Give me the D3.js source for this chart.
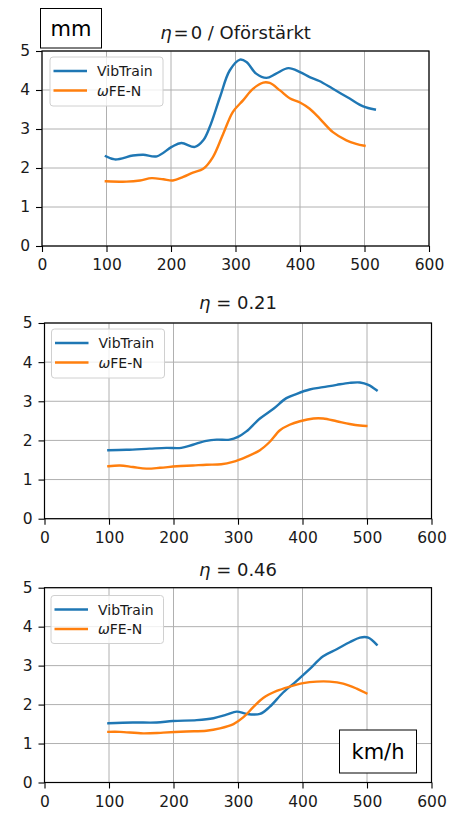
<!DOCTYPE html>
<html>
<head>
<meta charset="utf-8">
<script src="https://cdn.jsdelivr.net/npm/d3@7"></script>
<style>
  html, body { margin: 0; padding: 0; background: #fff; }
  svg { display: block; font-family: "DejaVu Sans", sans-serif; }
</style>
</head>
<body>
<svg id="chart" width="450" height="816"></svg>
<script>
// ---- data ----
const xTicks = [0, 100, 200, 300, 400, 500, 600];
const yTicks = [0, 1, 2, 3, 4, 5];
const seriesNames = ["VibTrain", "\u03C9FE-N"];
const seriesColors = ["#1f77b4", "#ff7f0e"];
const panelTitles = ["\u03B7=0 / Oförstärkt", "\u03B7 = 0.21", "\u03B7 = 0.46"];

// Panel 1: η = 0 / Oförstärkt
const p1VibSpeed = [99, 113, 141, 157, 178, 201, 216, 237, 250, 260, 276, 291, 307, 317, 332, 348, 363, 382, 400, 415, 430, 451, 477, 498, 516];
const p1VibVal   = [2.30, 2.22, 2.32, 2.34, 2.30, 2.54, 2.64, 2.54, 2.71, 3.05, 3.82, 4.50, 4.78, 4.72, 4.42, 4.31, 4.42, 4.56, 4.46, 4.33, 4.23, 4.03, 3.78, 3.58, 3.50];
const p1FeSpeed  = [99, 131, 152, 170, 188, 203, 219, 234, 250, 265, 281, 296, 312, 327, 343, 353, 369, 384, 400, 415, 431, 451, 472, 487, 500];
const p1FeVal    = [1.66, 1.65, 1.68, 1.74, 1.71, 1.68, 1.77, 1.88, 1.98, 2.28, 2.88, 3.44, 3.74, 4.03, 4.19, 4.18, 3.99, 3.79, 3.68, 3.52, 3.26, 2.92, 2.71, 2.62, 2.57];

// Panel 2: η = 0.21
const p2VibSpeed = [99, 127, 163, 189, 212, 230, 251, 267, 287, 300, 313, 334, 355, 375, 391, 411, 432, 453, 473, 489, 502, 515];
const p2VibVal   = [1.75, 1.76, 1.79, 1.81, 1.81, 1.89, 1.99, 2.02, 2.02, 2.09, 2.23, 2.56, 2.81, 3.08, 3.19, 3.30, 3.36, 3.42, 3.47, 3.48, 3.42, 3.28];
const p2FeSpeed  = [99, 117, 137, 158, 179, 205, 230, 251, 274, 292, 313, 334, 349, 365, 380, 396, 417, 432, 453, 473, 489, 499];
const p2FeVal    = [1.34, 1.36, 1.32, 1.28, 1.30, 1.34, 1.36, 1.38, 1.39, 1.45, 1.58, 1.75, 1.96, 2.26, 2.40, 2.49, 2.56, 2.56, 2.49, 2.42, 2.38, 2.37];

// Panel 3: η = 0.46
const p3VibSpeed = [99, 137, 174, 199, 236, 262, 282, 298, 313, 334, 349, 370, 391, 411, 432, 453, 473, 489, 502, 515];
const p3VibVal   = [1.52, 1.54, 1.54, 1.58, 1.60, 1.65, 1.74, 1.82, 1.76, 1.76, 1.94, 2.31, 2.61, 2.91, 3.24, 3.42, 3.60, 3.72, 3.72, 3.54];
const p3FeSpeed  = [99, 117, 153, 184, 220, 251, 272, 293, 308, 324, 339, 360, 380, 401, 422, 442, 463, 484, 499];
const p3FeVal    = [1.30, 1.30, 1.26, 1.28, 1.31, 1.33, 1.39, 1.50, 1.67, 1.94, 2.17, 2.35, 2.46, 2.55, 2.59, 2.59, 2.54, 2.41, 2.29];

// ---- layout ----
const panels = [
  { left: 42,   right: 429,   top: 51,    bottom: 246,   titleY: 39,  legend: { x: 50, y: 57, w: 113, h: 49 },
    series: [[p1VibSpeed, p1VibVal], [p1FeSpeed, p1FeVal]] },
  { left: 44.5, right: 431.5, top: 323,   bottom: 518.7, titleY: 309, legend: { x: 51.5, y: 329, w: 113, h: 49 },
    series: [[p2VibSpeed, p2VibVal], [p2FeSpeed, p2FeVal]] },
  { left: 44.5, right: 431.5, top: 587.7, bottom: 782.5, titleY: 576, legend: { x: 51, y: 595.5, w: 112.5, h: 48 },
    series: [[p3VibSpeed, p3VibVal], [p3FeSpeed, p3FeVal]] }
];

const svg = d3.select("#chart");

panels.forEach((p, i) => {
  const x = d3.scaleLinear().domain([0, 600]).range([p.left, p.right]);
  const y = d3.scaleLinear().domain([0, 5]).range([p.bottom, p.top]);
  const g = svg.append("g");

  // grid
  g.append("g").selectAll("line").data(xTicks).join("line")
    .attr("x1", d => x(d)).attr("x2", d => x(d))
    .attr("y1", p.top).attr("y2", p.bottom)
    .attr("stroke", "#b0b0b0").attr("stroke-width", 1);
  g.append("g").selectAll("line").data(yTicks).join("line")
    .attr("x1", p.left).attr("x2", p.right)
    .attr("y1", d => y(d)).attr("y2", d => y(d))
    .attr("stroke", "#b0b0b0").attr("stroke-width", 1);

  // series lines
  const line = d3.line().x(d => x(d[0])).y(d => y(d[1])).curve(d3.curveCatmullRom.alpha(0.5));
  p.series.forEach((s, k) => {
    const pts = s[0].map((v, j) => [v, s[1][j]]);
    g.append("path").datum(pts)
      .attr("d", line)
      .attr("fill", "none")
      .attr("stroke", seriesColors[k])
      .attr("stroke-width", 2.4)
      .attr("stroke-linecap", "square")
      .attr("stroke-linejoin", "round");
  });

  // spines
  g.append("rect")
    .attr("x", p.left).attr("y", p.top)
    .attr("width", p.right - p.left).attr("height", p.bottom - p.top)
    .attr("fill", "none").attr("stroke", "#000").attr("stroke-width", 1.2);

  // axes
  const xAxis = d3.axisBottom(x).tickValues(xTicks).tickSize(6).tickPadding(7).tickFormat(d3.format("d"));
  const yAxis = d3.axisLeft(y).tickValues(yTicks).tickSize(6).tickPadding(6).tickFormat(d3.format("d"));
  const gx = g.append("g").attr("transform", `translate(0,${p.bottom})`).call(xAxis);
  const gy = g.append("g").attr("transform", `translate(${p.left},0)`).call(yAxis);
  [gx, gy].forEach(a => {
    a.select(".domain").remove();
    a.selectAll(".tick line").attr("stroke", "#000").attr("stroke-width", 1.1);
    a.selectAll(".tick text").attr("fill", "#1a1a1a").style("font-size", "15.5px").style("font-family", "DejaVu Sans");
  });

  // title
  const cx = (p.left + p.right) / 2;
  const t = g.append("text").attr("x", cx).attr("y", p.titleY)
    .attr("text-anchor", "middle").attr("fill", "#1a1a1a")
    .style("font-size", "18px");
  const title = panelTitles[i];
  const eta = title.charAt(0);
  t.append("tspan").style("font-style", "italic").text(eta);
  if (i === 0) {
    t.append("tspan").attr("dx", 2).text("=");
    t.append("tspan").attr("dx", 2).text(title.slice(2));
  } else {
    t.append("tspan").text(title.slice(1));
  }

  // legend
  const L = p.legend;
  const lg = g.append("g");
  lg.append("rect").attr("x", L.x).attr("y", L.y).attr("width", L.w).attr("height", L.h)
    .attr("rx", 3).attr("fill", "#fff").attr("fill-opacity", 0.8)
    .attr("stroke", "#d0d0d0").attr("stroke-width", 1);
  seriesNames.forEach((name, k) => {
    const ly = L.y + 14 + k * 19.5;
    lg.append("line").attr("x1", L.x + 3.5).attr("x2", L.x + 37)
      .attr("y1", ly).attr("y2", ly)
      .attr("stroke", seriesColors[k]).attr("stroke-width", 2.4);
    const tx = lg.append("text").attr("x", L.x + 47).attr("y", ly + 5)
      .attr("fill", "#1a1a1a").style("font-size", "14px");
    if (k === 1) {
      tx.append("tspan").style("font-style", "italic").text(name.charAt(0));
      tx.append("tspan").text(name.slice(1));
    } else {
      tx.text(name);
    }
  });
});

// unit boxes
function unitBox(bx, by, bw, bh, label) {
  svg.append("rect").attr("x", bx).attr("y", by).attr("width", bw).attr("height", bh)
    .attr("fill", "#fff").attr("stroke", "#000").attr("stroke-width", 1);
  svg.append("text").attr("x", bx + bw / 2).attr("y", by + bh / 2 + 7.5)
    .attr("text-anchor", "middle").attr("fill", "#000")
    .style("font-size", "21px").text(label);
}
unitBox(40.5, 8.5, 61, 39.5, "mm");
unitBox(339.5, 730, 77, 43, "km/h");
</script>
</body>
</html>
